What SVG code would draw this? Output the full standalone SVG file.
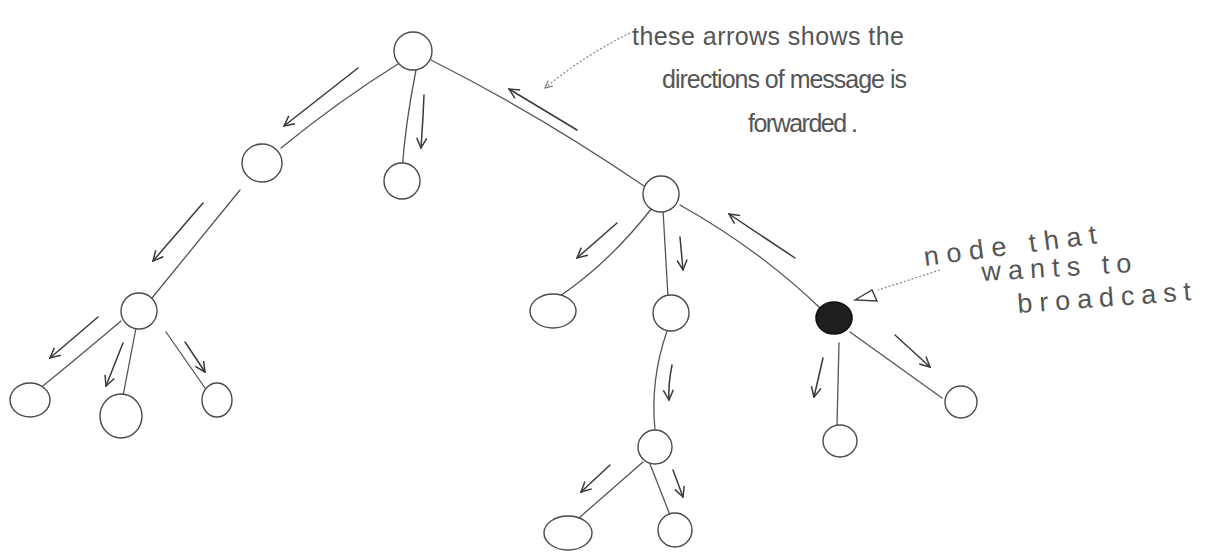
<svg xmlns="http://www.w3.org/2000/svg" width="1207" height="552" viewBox="0 0 1207 552">
<style>
.node{fill:#fff;stroke:#4a4a4a;stroke-width:1.4}
.src{fill:#1e1e1e;stroke:#111;stroke-width:1.6}
.edge{fill:none;stroke:#555;stroke-width:1.3;stroke-linecap:round}
.arrow{fill:none;stroke:#3a3a3a;stroke-width:1.5;stroke-linecap:round;marker-end:url(#head)}
.ptr{fill:none;stroke:#8a8a8a;stroke-width:1.3;stroke-dasharray:2 2}
.lbl{font-family:"Liberation Sans",Arial,sans-serif;font-size:25px;fill:#555}
.lbl2{font-family:"Liberation Sans",Arial,sans-serif;font-size:27px;fill:#555}
</style>
<defs>
<marker id="head" viewBox="0 0 12 12" refX="11" refY="6" markerWidth="12" markerHeight="12" markerUnits="userSpaceOnUse" orient="auto">
<path d="M1,1 L11,6 L1,11" fill="none" stroke="#3a3a3a" stroke-width="1.5"/>
</marker>
<marker id="small" viewBox="0 0 10 10" refX="9" refY="5" markerWidth="9" markerHeight="9" markerUnits="userSpaceOnUse" orient="auto">
<path d="M1,1 L9,5 L1,9" fill="none" stroke="#7a7a7a" stroke-width="1.3"/>
</marker>
</defs>
<rect width="1207" height="552" fill="#fff"/>
<g id="connectors">
<path class="edge" d="M398,64 Q340,100 281,148"/>
<path class="edge" d="M416,70 Q405,125 402,172"/>
<path class="edge" d="M431,60 Q540,115 644,186"/>
<path class="edge" d="M240,190 L152,298"/>
<path class="edge" d="M121,321 Q75,360 33,394"/>
<path class="edge" d="M136,328 L123,396"/>
<path class="edge" d="M166,332 L205,388"/>
<path class="edge" d="M652,208 Q610,262 560,296"/>
<path class="edge" d="M663,210 L668,297"/>
<path class="edge" d="M680,205 Q760,250 820,308"/>
<path class="edge" d="M667,331 Q650,380 655,430"/>
<path class="edge" d="M643,462 L572,524"/>
<path class="edge" d="M650,464 L670,515"/>
<path class="edge" d="M839,343 L837,425"/>
<path class="edge" d="M850,332 L942,398"/>
</g>
<g id="direction-arrows">
<path class="arrow" d="M358,68 L284,126"/>
<path class="arrow" d="M424,95 Q423,120 421,148"/>
<path class="arrow" d="M203,203 L153,261"/>
<path class="arrow" d="M98,317 L50,358"/>
<path class="arrow" d="M123,343 L106,386"/>
<path class="arrow" d="M185,342 L205,372"/>
<path class="arrow" d="M617,223 L577,258"/>
<path class="arrow" d="M680,237 L683,270"/>
<path class="arrow" d="M795,258 L729,214"/>
<path class="arrow" d="M577,130 L509,89"/>
<path class="arrow" d="M823,358 L814,397"/>
<path class="arrow" d="M895,335 L930,367"/>
<path class="arrow" d="M672,365 Q668,385 669,400"/>
<path class="arrow" d="M610,465 L581,492"/>
<path class="arrow" d="M673,470 L683,497"/>
</g>
<g id="n-root"><circle class="node" cx="413" cy="51" r="19"/></g>
<g id="n-a"><ellipse class="node" cx="262" cy="163" rx="20" ry="19"/></g>
<g id="n-b"><circle class="node" cx="402" cy="181" r="18"/></g>
<g id="n-c"><circle class="node" cx="661" cy="194" r="18"/></g>
<g id="n-d"><circle class="node" cx="139" cy="311" r="18"/></g>
<g id="n-d1"><ellipse class="node" cx="30" cy="400" rx="20" ry="17"/></g>
<g id="n-d2"><ellipse class="node" cx="121" cy="416" rx="21" ry="22"/></g>
<g id="n-d3"><ellipse class="node" cx="217" cy="400" rx="15" ry="17"/></g>
<g id="n-c1"><ellipse class="node" cx="553" cy="311" rx="23" ry="17"/></g>
<g id="n-c2"><circle class="node" cx="671" cy="313" r="18"/></g>
<g id="n-src"><ellipse class="src" cx="834" cy="318" rx="18" ry="16"/></g>
<g id="n-c2a"><circle class="node" cx="655" cy="447" r="17"/></g>
<g id="n-c2a1"><ellipse class="node" cx="568" cy="533" rx="24" ry="17"/></g>
<g id="n-c2a2"><circle class="node" cx="675" cy="530" r="17"/></g>
<g id="n-e1"><ellipse class="node" cx="840" cy="441" rx="17" ry="16"/></g>
<g id="n-e2"><circle class="node" cx="961" cy="402" r="16"/></g>
<g id="note-arrows">
<path class="ptr" d="M630,33 Q585,55 545,88" marker-end="url(#small)"/>
<path class="ptr" d="M940,270 L878,290"/>
<polygon points="855,300 872,290 877,301" fill="#fff" stroke="#3a3a3a" stroke-width="1.4"/>
</g>
<g id="note-top">
<text class="lbl" x="632" y="45" textLength="272" lengthAdjust="spacing">these arrows shows the</text>
<text class="lbl" x="662" y="88" textLength="245" lengthAdjust="spacing">directions of message is</text>
<text class="lbl" x="748" y="132" textLength="110" lengthAdjust="spacing">forwarded .</text>
</g>
<g id="note-right">
<text class="lbl2" x="925" y="266" textLength="174" lengthAdjust="spacing" transform="rotate(-7.5 925 266)">node that</text>
<text class="lbl2" x="982" y="281" textLength="150" lengthAdjust="spacing" transform="rotate(-3.4 982 281)">wants to</text>
<text class="lbl2" x="1018" y="313" textLength="174" lengthAdjust="spacing" transform="rotate(-4.2 1018 313)">broadcast</text>
</g>
</svg>
